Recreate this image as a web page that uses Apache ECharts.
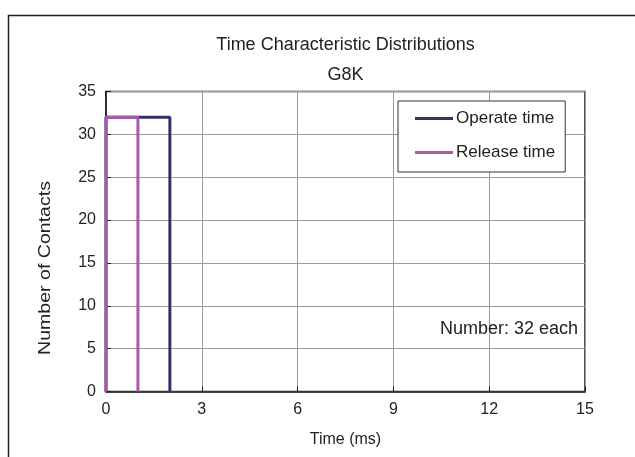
<!DOCTYPE html>
<html>
<head>
<meta charset="utf-8">
<script src="https://cdn.jsdelivr.net/npm/echarts@6/dist/echarts.min.js"></script>
<style>
html,body{margin:0;padding:0;background:#fff;}
#chart{width:635px;height:457px;}
</style>
</head>
<body>
<div id="chart"></div>
<script>
// Data
var seriesNames = ['Operate time', 'Release time'];
var operateX = [0, 0, 2, 2];
var operateY = [0, 32, 32, 0];
var releaseX = [0, 0, 1, 1];
var releaseY = [0, 32, 32, 0];
var xTicks = [0, 3, 6, 9, 12, 15];
var yTicks = [0, 5, 10, 15, 20, 25, 30, 35];
var titleText = 'Time Characteristic Distributions';
var subtitleText = 'G8K';
var noteText = 'Number: 32 each';

function pairs(xs, ys) { return xs.map(function (x, i) { return [x, ys[i]]; }); }

var FONT = 'Liberation Sans, Arial, Helvetica, sans-serif';
var chart = echarts.init(document.getElementById('chart'), null, {renderer: 'canvas'});
var option = {
  animation: false,
  backgroundColor: '#fff',
  grid: {left: 106, right: 50, top: 91.5, bottom: 65.5, show: true, borderColor: '#1a1a1a', borderWidth: 1.5, backgroundColor: 'transparent'},
  xAxis: {
    type: 'value', min: xTicks[0], max: xTicks[xTicks.length - 1], interval: 3,
    name: 'Time (ms)', nameLocation: 'middle', nameGap: 40,
    nameTextStyle: {fontFamily: FONT, fontSize: 16, color: '#222'},
    axisLine: {show: true, lineStyle: {color: '#1a1a1a', width: 1.5}},
    axisTick: {show: true, inside: true, length: 5, lineStyle: {color: '#1a1a1a'}},
    axisLabel: {fontFamily: FONT, fontSize: 16, color: '#222', margin: 10},
    splitLine: {show: true, lineStyle: {color: '#9a9a9a', width: 1}}
  },
  yAxis: {
    type: 'value', min: yTicks[0], max: yTicks[yTicks.length - 1], interval: 5,
    axisLine: {show: true, lineStyle: {color: '#1a1a1a', width: 1.5}},
    axisTick: {show: true, inside: true, length: 5, lineStyle: {color: '#1a1a1a'}},
    axisLabel: {fontFamily: FONT, fontSize: 16, color: '#222', margin: 10},
    splitLine: {show: true, lineStyle: {color: '#9a9a9a', width: 1}}
  },
  legend: {
    data: seriesNames,
    orient: 'vertical', left: 398, top: 101,
    backgroundColor: '#fff', borderColor: '#333', borderWidth: 1, borderRadius: 0,
    padding: [9, 10, 11, 17],
    itemGap: 17, itemWidth: 38, itemHeight: 3,
    icon: 'rect',
    textStyle: {fontFamily: FONT, fontSize: 17, color: '#222', padding: [0, 0, 0, -2]}
  },
  graphic: [
    {type: 'rect', left: 6, top: 13, z: -10, silent: true,
     shape: {width: 700, height: 500}, style: {fill: 'none', stroke: '#222', lineWidth: 1.5}},
    {type: 'text', x: 345.5, y: 45, silent: true,
     style: {text: titleText, fontFamily: FONT, fontSize: 18, fill: '#222', textAlign: 'center', textVerticalAlign: 'middle'}},
    {type: 'text', x: 345.5, y: 75, silent: true,
     style: {text: subtitleText, fontFamily: FONT, fontSize: 18, fill: '#222', textAlign: 'center', textVerticalAlign: 'middle'}},
    {type: 'text', x: 578, y: 329, silent: true, z: 10,
     style: {text: noteText, fontFamily: FONT, fontSize: 18, fill: '#222', textAlign: 'right', textVerticalAlign: 'middle'}},
    {type: 'text', x: 45, y: 268, rotation: Math.PI / 2, scaleX: 1.15, silent: true,
     style: {text: 'Number of Contacts', fontFamily: FONT, fontSize: 17, fill: '#222', textAlign: 'center', textVerticalAlign: 'middle'}}
  ],
  series: [
    {name: seriesNames[0], type: 'line', data: pairs(operateX, operateY), showSymbol: false, symbol: 'none',
     color: '#33336b', lineStyle: {color: '#33336b', width: 3}, z: 3},
    {name: seriesNames[1], type: 'line', data: pairs(releaseX, releaseY), showSymbol: false, symbol: 'none',
     color: '#a85aa8', lineStyle: {color: '#a85aa8', width: 3}, z: 4}
  ]
};
chart.setOption(option);
</script>
</body>
</html>
